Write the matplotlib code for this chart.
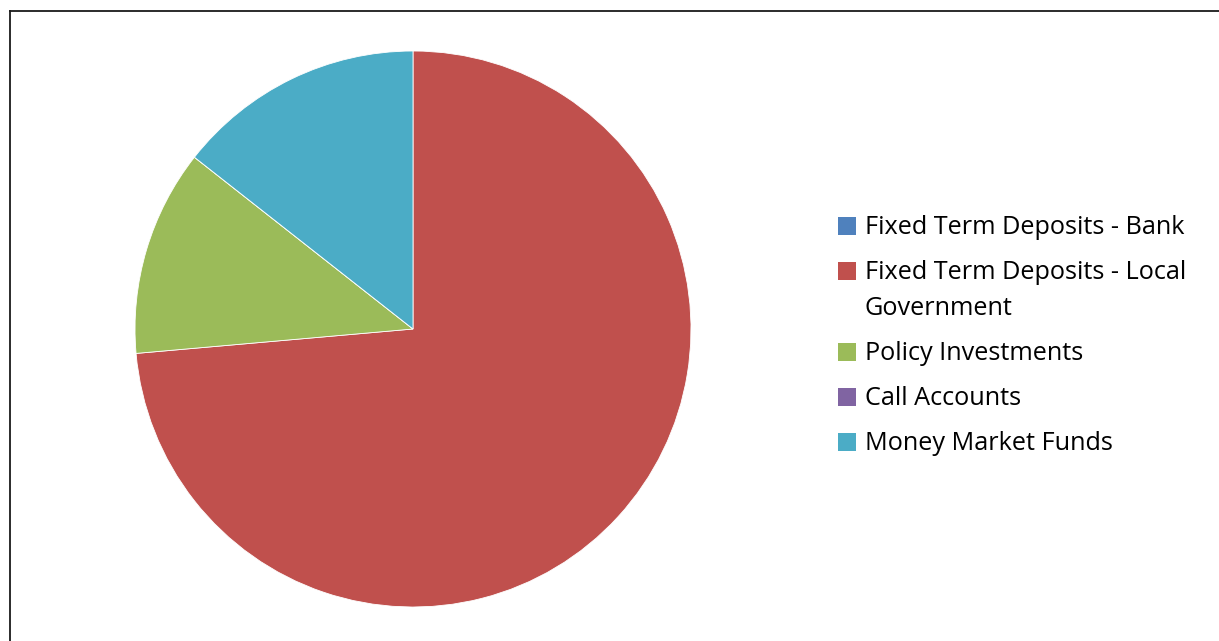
import matplotlib
matplotlib.use("Agg")
import matplotlib.pyplot as plt
from matplotlib.patches import Rectangle
from matplotlib.lines import Line2D

categories = ["Fixed Term Deposits - Bank",
              "Fixed Term Deposits - Local Government",
              "Policy Investments",
              "Call Accounts",
              "Money Market Funds"]
legend_labels = ["Fixed Term Deposits - Bank",
                 "Fixed Term Deposits - Local\nGovernment",
                 "Policy Investments",
                 "Call Accounts",
                 "Money Market Funds"]
values = [0.0, 73.6, 12.0, 0.0, 14.4]
colors = ["#4F81BD", "#C0504D", "#9BBB59", "#8064A2", "#4BACC6"]

W, H = 1219, 641
fig = plt.figure(figsize=(W / 100, H / 100), dpi=100)
fig.patch.set_facecolor("white")

cx, cy, r = 413, 329, 278
ax = fig.add_axes([(cx - r) / W, (H - cy - r) / H, 2 * r / W, 2 * r / H])
ax.pie(values, colors=colors, startangle=90, counterclock=False, radius=1,
       wedgeprops=dict(edgecolor="white", linewidth=0.6))
ax.set_xlim(-1, 1)
ax.set_ylim(-1, 1)
ax.set_aspect("equal")
ax.axis("off")

# border (top and left)
fig.add_artist(Line2D([10 / W, 1.0], [1 - 10.5 / H, 1 - 10.5 / H],
                      transform=fig.transFigure, color="#1a1a1a", lw=1.3))
fig.add_artist(Line2D([10 / W, 10 / W], [0.0, 1 - 10.5 / H],
                      transform=fig.transFigure, color="#1a1a1a", lw=1.3))

# legend
font = dict(family=["Open Sans", "DejaVu Sans"], size=18.2, color="black")
y = 225
for lab, col in zip(legend_labels, colors):
    sq = 18
    fig.add_artist(Rectangle((838 / W, (H - y - sq / 2 - 1) / H), sq / W, sq / H,
                             transform=fig.transFigure, facecolor=col,
                             edgecolor="none"))
    lines = lab.split("\n")
    for k, line in enumerate(lines):
        fig.text(865 / W, (H - (y + 36 * k) - 9) / H, line, ha="left",
                 va="baseline", **font)
    y += 45 + 36 * (len(lines) - 1)

fig.savefig("out.png", dpi=100, facecolor="white")
